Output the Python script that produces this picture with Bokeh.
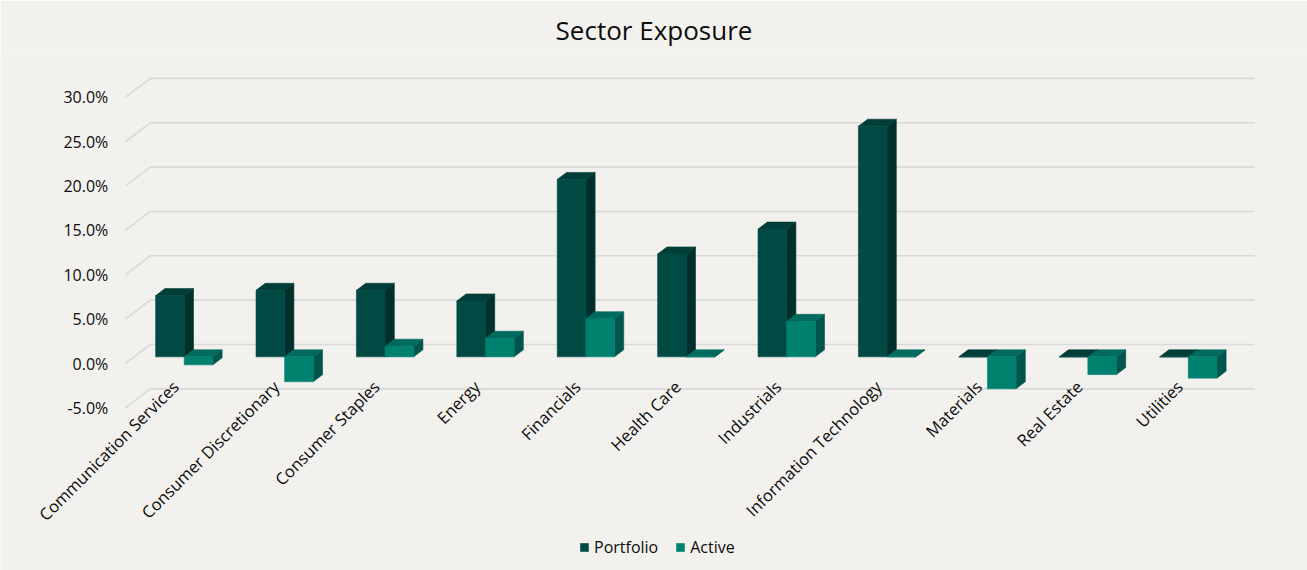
import math
from bokeh.plotting import figure
from bokeh.models import Range1d, FixedTicker, PrintfTickFormatter, Legend, LegendItem, ColumnDataSource
from bokeh.embed import file_html
from bokeh.resources import INLINE

# ---------------- data ----------------
categories = ["Communication Services", "Consumer Discretionary", "Consumer Staples", "Energy",
              "Financials", "Health Care", "Industrials", "Information Technology",
              "Materials", "Real Estate", "Utilities"]
portfolio = [6.9, 7.5, 7.5, 6.3, 20.0, 11.6, 14.4, 26.0, 0.0, 0.0, 0.0]
active = [-0.9, -2.8, 1.2, 2.1, 4.3, 0.0, 4.0, 0.0, -3.6, -2.0, -2.4]
series_names = ["Portfolio", "Active"]
y_ticks = [-5, 0, 5, 10, 15, 20, 25, 30]

# ---------------- style / geometry ----------------
BG = "#F2F1EE"
GRID = "#D9D9D9"
TEXT = "#0D0D0D"
FONT = "Open Sans"
COLORS = {
    "Portfolio": {"front": "#014A44", "side": "#012F2B", "top": "#013E39"},
    "Active": {"front": "#00806F", "side": "#00564C", "top": "#006A5E"},
}
PX_X = 100.4          # pixels per category
PX_Y = 8.87           # pixels per percent
DX = 25 / PX_X        # full depth, x data units
DY = 19 / PX_Y        # full depth, y data units
F_FRONT = 0.35        # depth of bar front plane
F_BAR = 0.37          # depth of the bars
BAR_W = 0.285

W, H = 1307, 570
TOP = 52
x_start = (0 - 175) / PX_X
x_end = (W - 175) / PX_X
y_top = (363 - TOP) / PX_Y
y_bot = (363 - H) / PX_Y

p = figure(width=W, height=H, output_backend="svg", toolbar_location=None,
           x_range=Range1d(x_start, x_end), y_range=Range1d(y_bot, y_top),
           min_border_left=0, min_border_right=0, min_border_bottom=0, min_border_top=TOP)
p.background_fill_color = BG
p.border_fill_color = BG
p.outline_line_color = None
p.xgrid.visible = False
p.ygrid.visible = False

p.title.text = "Sector Exposure"
p.title.align = "center"
p.title.text_font = FONT
p.title.text_font_size = "26px"
p.title.text_font_style = "normal"
p.title.text_color = TEXT

# ---------------- back wall gridlines ----------------
xl, xr = -0.5, len(categories) - 0.5
g_xs = [[xl, xl + DX, xr + DX] for t in y_ticks]
g_ys = [[t, t + DY, t + DY] for t in y_ticks]
p.multi_line(xs=g_xs, ys=g_ys, line_color=GRID, line_width=1.6)

# ---------------- 3D bars ----------------
fronts = {}
for s, (name, vals) in enumerate(zip(series_names, [portfolio, active])):
    fx, fy = F_FRONT * DX, F_FRONT * DY
    bx, by = F_BAR * DX, F_BAR * DY
    L, R, B, T = [], [], [], []
    txs, tys, sxs, sys_ = [], [], [], []
    for i, v in enumerate(vals):
        x0 = i - BAR_W + s * BAR_W + fx
        x1 = x0 + BAR_W
        yb = fy + min(v, 0)
        yt = fy + max(v, 0)
        L.append(x0); R.append(x1); B.append(yb); T.append(yt)
        txs.append([x0, x1, x1 + bx, x0 + bx]); tys.append([yt, yt, yt + by, yt + by])
        sxs.append([x1, x1, x1 + bx, x1 + bx]); sys_.append([yb, yt, yt + by, yb + by])
    c = COLORS[name]
    p.patches(xs=sxs, ys=sys_, fill_color=c["side"], line_color=c["side"], line_width=0.6)
    p.patches(xs=txs, ys=tys, fill_color=c["top"], line_color=c["top"], line_width=0.6)
    src = ColumnDataSource(dict(left=L, right=R, bottom=B, top=T))
    fronts[name] = p.quad(left="left", right="right", bottom="bottom", top="top", source=src,
                          fill_color=c["front"], line_color=c["front"], line_width=0.6)

# ---------------- axes ----------------
p.yaxis.fixed_location = xl
p.yaxis.ticker = FixedTicker(ticks=y_ticks)
p.yaxis.formatter = PrintfTickFormatter(format="%.1f%%")
p.yaxis.axis_line_color = None
p.yaxis.major_tick_line_color = None
p.yaxis.minor_tick_line_color = None
p.yaxis.major_label_standoff = 11
p.yaxis.major_label_text_font = FONT
p.yaxis.major_label_text_font_size = "16px"
p.yaxis.major_label_text_color = TEXT

p.xaxis.fixed_location = 0
p.xaxis.ticker = FixedTicker(ticks=list(range(len(categories))))
p.xaxis.major_label_overrides = {i: c for i, c in enumerate(categories)}
p.xaxis.major_label_orientation = math.pi / 4
p.xaxis.axis_line_color = None
p.xaxis.major_tick_line_color = None
p.xaxis.minor_tick_line_color = None
p.xaxis.major_label_standoff = 14
p.xaxis.major_label_text_font = FONT
p.xaxis.major_label_text_font_size = "16.5px"
p.xaxis.major_label_text_color = TEXT

# ---------------- legend ----------------
legend = Legend(items=[LegendItem(label=n, renderers=[fronts[n]]) for n in series_names],
                orientation="horizontal", location=(579, 12),
                glyph_width=10, glyph_height=10, label_standoff=5, spacing=17,
                padding=0, margin=0, border_line_color=None, background_fill_alpha=0,
                label_text_font=FONT, label_text_font_size="16px", label_text_color=TEXT)
p.add_layout(legend)

open("out.html", "w").write(file_html(p, INLINE))
